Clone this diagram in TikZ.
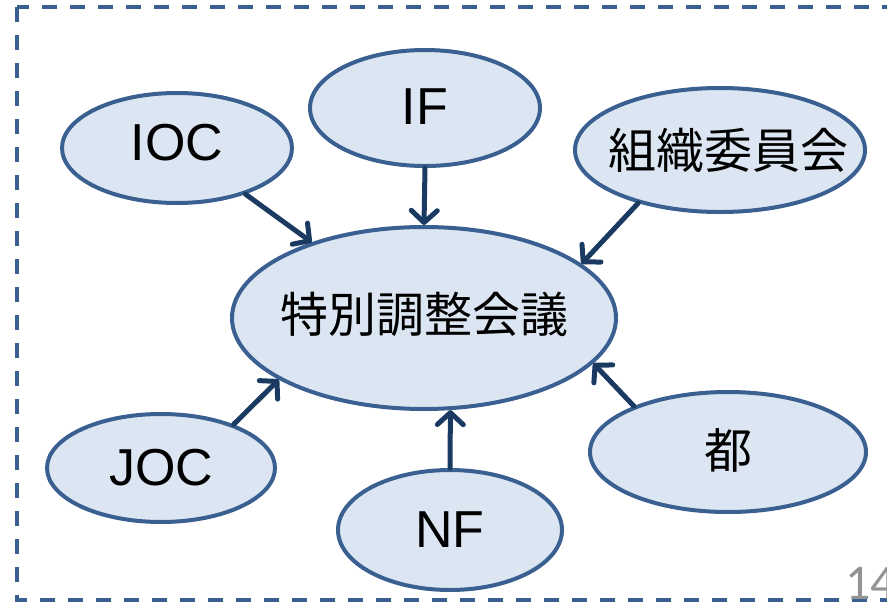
\documentclass[tikz,border=0pt]{standalone}
\usepackage{fontspec}
\usetikzlibrary{shapes.geometric,arrows.meta}
\newfontfamily\jpfont{Noto Sans CJK JP}
\newfontfamily\latfont{Liberation Sans}
\newfontfamily\numfont{Carlito}
\definecolor{bord}{HTML}{3A5F91}
\definecolor{fillb}{HTML}{DCE6F2}
\definecolor{arr}{HTML}{1B3A62}
\tikzset{
  bub/.style={ellipse, draw=bord, line width=4pt, fill=fillb, inner sep=0pt},
  jptext/.style={font=\jpfont\fontsize{48}{52}\selectfont, inner sep=0pt},
  lattext/.style={font=\latfont\fontsize{52}{56}\selectfont, inner sep=0pt},
  conn/.style={draw=arr, line width=5pt, line cap=round,
    -{Straight Barb[length=12pt,width=26pt,line cap=round,line join=round]}},
  frame/.style={draw=bord, line width=3.5pt, dash pattern=on 15pt off 13pt}
}
\begin{document}
\begin{tikzpicture}[x=1pt,y=-1pt]
\useasboundingbox (0,0) rectangle (887,603);
\draw[frame] (17,7) rectangle (900,600);
\node[bub, minimum width=230pt, minimum height=110pt] (ioc) at (177,148) {};
\node[bub, minimum width=230pt, minimum height=116pt] (if) at (425,108) {};
\node[bub, minimum width=290pt, minimum height=124pt] (soshiki) at (720,150) {};
\node[bub, minimum width=384pt, minimum height=182pt] (center) at (424,318) {};
\node[bub, minimum width=228pt, minimum height=108pt] (joc) at (161,468) {};
\node[bub, minimum width=224pt, minimum height=120pt] (nf) at (450,530) {};
\node[bub, minimum width=276pt, minimum height=120pt] (to) at (728,452) {};
\node[lattext] (tioc) at ([yshift=5pt]ioc.center) {IOC};
\node[lattext] (tif) at ([yshift=1pt]if.center) {IF};
\node[jptext] (tsoshiki) at ([xshift=8pt]soshiki.center) {組織委員会};
\node[jptext] (tcenter) at ([yshift=4pt]center.center) {特別調整会議};
\node[lattext] (tjoc) at (joc.center) {JOC};
\node[lattext] (tnf) at (nf.center) {NF};
\node[jptext] (tto) at ([yshift=2pt]to.center) {都};
\draw[conn] (ioc.-34.6) -- (center.146.5);
\draw[conn] (if.south) -- (center.north);
\draw[conn] (soshiki.213) -- (center.19.9);
\draw[conn] (joc.31) -- (center.203.6);
\draw[conn] (nf.north) -- (center.-74.5);
\draw[conn] (to.154) -- (center.-15.6);
\node[font=\numfont\fontsize{50}{52}\selectfont, text=gray!85, anchor=base west, inner sep=0pt] (pnum) at (845,599) {14};
\end{tikzpicture}
\end{document}
